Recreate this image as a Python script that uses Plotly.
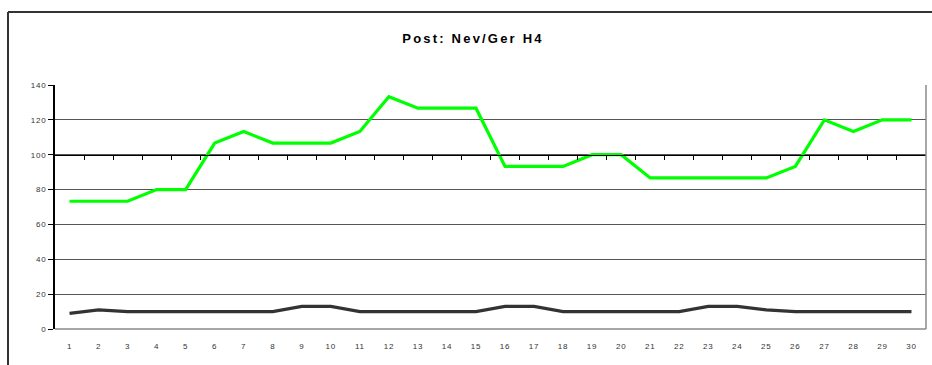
import plotly.graph_objects as go

# Daily values for the two series (days 1..30)
days = list(range(1, 31))
green_values = [73.3, 73.3, 73.3, 80, 80, 106.7, 113.3, 106.7, 106.7, 106.7,
                113.3, 133.3, 126.7, 126.7, 126.7, 93.3, 93.3, 93.3, 100, 100,
                86.7, 86.7, 86.7, 86.7, 86.7, 93.3, 120, 113.3, 120, 120]
dark_values = [9, 11, 10, 10, 10, 10, 10, 10, 13, 13,
               10, 10, 10, 10, 10, 13, 13, 10, 10, 10,
               10, 10, 13, 13, 11, 10, 10, 10, 10, 10]
y_ticks = [0, 20, 40, 60, 80, 100, 120, 140]
title_text = "Post: Nev/Ger H4"

W, H = 932, 365
L, R, T, B = 55, 6, 85, 36
plot_w = W - L - R
plot_h = H - T - B
y_max = 140
cross_at = 100


def px_to_paper_x(px):
    return (px - L) / plot_w


def px_to_paper_y(py):
    return (H - B - py) / plot_h


def spaced(text, spacing):
    return f'<span style="letter-spacing:{spacing}px">{text}</span>'


fig = go.Figure()

fig.add_trace(go.Scatter(
    x=days, y=green_values, mode="lines",
    line=dict(color="#00FF00", width=3.2),
    hoverinfo="skip", showlegend=False,
))
fig.add_trace(go.Scatter(
    x=days, y=dark_values, mode="lines",
    line=dict(color="#333333", width=3.2),
    hoverinfo="skip", showlegend=False,
))
# Carrier trace for the category axis that crosses at 100
fig.add_trace(go.Scatter(
    x=[days[0]], y=[cross_at], xaxis="x2", mode="markers",
    marker=dict(opacity=0), hoverinfo="skip", showlegend=False,
))

tick_font = dict(family="Liberation Sans, Arial, sans-serif", size=8, color="#333333")

fig.update_layout(
    width=W, height=H,
    margin=dict(l=L, r=R, t=T, b=B),
    paper_bgcolor="white",
    plot_bgcolor="white",
    title=dict(
        text=spaced(title_text, 2.2),
        x=px_to_paper_x(473), xref="paper", xanchor="center",
        y=1 - 38 / H, yref="container", yanchor="middle",
        font=dict(family="Liberation Sans, Arial, sans-serif", size=13,
                  color="#000000", weight="bold"),
    ),
    xaxis=dict(
        range=[0.5, 30.5],
        tickmode="array", tickvals=days,
        ticktext=[spaced(str(d), 0.8) for d in days],
        showgrid=False, zeroline=False, showline=False,
        ticks="outside", ticklen=9, tickcolor="rgba(0,0,0,0)",
        tickfont=tick_font, fixedrange=True,
    ),
    xaxis2=dict(
        range=[0.5, 30.5], overlaying="x", anchor="free",
        position=cross_at / y_max,
        tickmode="array", tickvals=[d + 0.5 for d in days[:-1]],
        showticklabels=False, showgrid=False, zeroline=False,
        showline=True, linecolor="#000000", linewidth=1,
        ticks="outside", ticklen=4, tickcolor="#000000", tickwidth=1,
        fixedrange=True,
    ),
    yaxis=dict(
        range=[0, y_max],
        tickmode="array", tickvals=y_ticks,
        ticktext=[spaced(str(v), 0.8) for v in y_ticks],
        showgrid=True, gridcolor="#555555", gridwidth=1,
        zeroline=False,
        showline=True, linecolor="#000000", linewidth=2,
        ticks="outside", ticklen=5, tickcolor="#000000",
        tickfont=tick_font, fixedrange=True,
    ),
    shapes=[
        # plot-area frame: right and bottom edges
        dict(type="line", xref="paper", yref="paper", x0=1, x1=1, y0=0, y1=1,
             line=dict(color="#8a8a8a", width=1.5)),
        dict(type="line", xref="paper", yref="paper", x0=0, x1=1, y0=0, y1=0,
             line=dict(color="#8a8a8a", width=1.5), layer="below"),
        # chart-area frame: left and top edges
        dict(type="line", xref="paper", yref="paper",
             x0=px_to_paper_x(8), x1=px_to_paper_x(8),
             y0=px_to_paper_y(H + 5), y1=px_to_paper_y(12),
             line=dict(color="#333333", width=2)),
        dict(type="line", xref="paper", yref="paper",
             x0=px_to_paper_x(8), x1=px_to_paper_x(W + 5),
             y0=px_to_paper_y(12), y1=px_to_paper_y(12),
             line=dict(color="#333333", width=2)),
    ],
)

fig.write_html("out.html", config={"displayModeBar": False})
